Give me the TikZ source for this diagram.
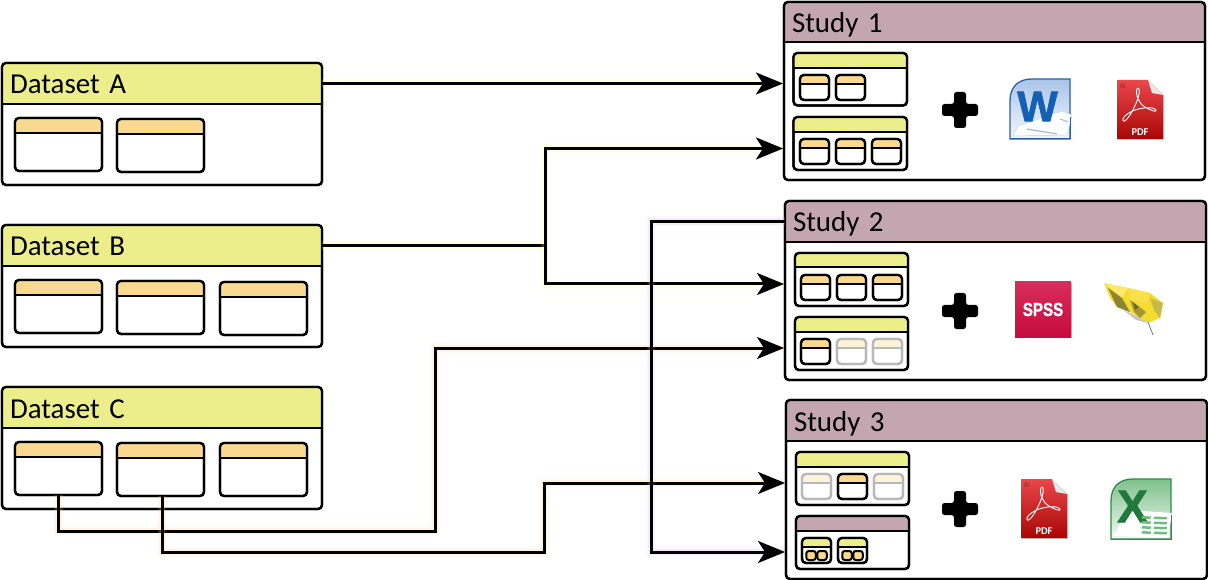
\documentclass[tikz,border=0pt]{standalone}
\usepackage{fontspec}
\usepackage{graphicx}
\setmainfont{Carlito}
\newfontfamily\heavyfont{Liberation Sans}[BoldFeatures={FakeBold=1.6}]
\usetikzlibrary{arrows.meta}
\definecolor{dsyellow}{HTML}{ECEE8C}
\definecolor{tborange}{HTML}{F8D98F}
\definecolor{stpurple}{HTML}{C4A6B0}
\definecolor{fadeorange}{HTML}{FDF3D9}
\definecolor{fadeline}{HTML}{B8B8B8}
\definecolor{glowyellow}{HTML}{FFFF90}
\definecolor{gloworange}{HTML}{FFD08A}
\definecolor{glowpurple}{HTML}{D8B8D8}
\definecolor{wordtop}{HTML}{A9C4E8}
\definecolor{wordbot}{HTML}{F4F8FD}
\definecolor{wordline}{HTML}{2B5FA8}
\definecolor{wordink}{HTML}{1460B4}
\definecolor{wordrule}{HTML}{9DB8DE}
\definecolor{wordedge}{HTML}{C4D4EA}
\definecolor{xltop}{HTML}{7FC08C}
\definecolor{xlbot}{HTML}{F2F9F2}
\definecolor{xlline}{HTML}{2F8C46}
\definecolor{xlink}{HTML}{1F7A3C}
\definecolor{xlcell}{HTML}{6DBE7E}
\definecolor{pdftop}{HTML}{E9474B}
\definecolor{pdfbot}{HTML}{A90606}
\definecolor{pdffold}{HTML}{E8E8E8}
\definecolor{pdfmark}{HTML}{B53030}
\definecolor{spsstop}{HTML}{D62E5C}
\definecolor{spssbot}{HTML}{C60B3E}
\definecolor{leafa}{HTML}{F4DC2E}
\definecolor{leafb}{HTML}{FBE96A}
\definecolor{leafc}{HTML}{FAE04A}
\definecolor{leafd}{HTML}{8E8436}
\definecolor{leafe}{HTML}{A59433}
\definecolor{leaff}{HTML}{6F6A38}
\definecolor{leafg}{HTML}{C9B94A}
\definecolor{leafh}{HTML}{C4C4C0}
\definecolor{leafstem}{HTML}{777777}
\tikzset{
  frame/.style={draw=black,line width=2.3bp,rounded corners=4bp,inner sep=0pt,outer sep=0pt},
  fadedframe/.style={draw=fadeline},
  title/.style={inner xsep=8bp,inner ysep=0pt,outer sep=0pt,anchor=west,text=black,
    text height=21bp,text depth=0bp,font=\fontsize{29}{32}\selectfont},
  link/.style={line width=3bp,draw=black,line join=miter},
  glow/.style={preaction={draw=#1,-,line width=10bp,opacity=.08},
               preaction={draw=#1,-,line width=6.5bp,opacity=.18}},
  tip/.style={-{Stealth[length=27bp,width=22bp,inset=7bp]},shorten >=1bp},
  tiny/.style={draw=black,line width=2bp,rounded corners=2.5bp,fill=tborange,
    inner sep=0pt,outer sep=0pt,minimum width=9.5bp,minimum height=9bp},
  plusmark/.style={fill=black,rounded corners=2.5bp},
  pdfglyph/.style={draw=white,line width=.9bp},
}
% [options]{name}{x1}{y1}{x2}{y2}{divider}{header colour}
\newcommand{\pbox}[8][]{%
  \pgfmathsetmacro{\pcx}{(#3+#5)/2}\pgfmathsetmacro{\pcy}{(#4+#6)/2}%
  \pgfmathsetmacro{\pw}{#5-#3}\pgfmathsetmacro{\ph}{#6-#4}%
  \node[frame,#1,fill=white,minimum width=\pw bp,minimum height=\ph bp] (#2) at (\pcx,\pcy) {};
  \fill[#8] (#3,#7) {[rounded corners=3.5bp] -- (#3,#4) -- (#5,#4)} -- (#5,#7) -- cycle;
  \draw[frame,#1] (#3,#7) -- (#5,#7);
  \draw[frame,#1] (#3,#4) rectangle (#5,#6);
}
% {name}{x1}{y1}{x2}{y2}{divider}{colour}{title}
\newcommand{\titled}[8]{%
  \pbox{#1}{#2}{#3}{#4}{#5}{#6}{#7}
  \pgfmathsetmacro{\tcy}{(#3+#6)/2}\pgfmathsetmacro{\tw}{#4-#2}\pgfmathsetmacro{\th}{#6-#3}%
  \node[title,minimum width=\tw bp,minimum height=\th bp,text width={\tw bp-16bp}] (#1h) at (#2,\tcy) {#8};
}
\newcommand{\plusat}[2]{%
  \fill[plusmark,shift={(#1,#2)}] (-6,-18) -- (6,-18) -- (6,-6) -- (18,-6) -- (18,6) -- (6,6)
    -- (6,18) -- (-6,18) -- (-6,6) -- (-18,6) -- (-18,-6) -- (-6,-6) -- cycle;
}
\newcommand{\wordicon}[3]{%
  \begin{scope}[shift={(#1,#2)}]
    \shade[top color=wordtop,bottom color=wordbot,draw=wordline,line width=1.3bp]
      (0,60) -- (0,22) .. controls (0,8) and (8,0) .. (22,0) -- (60,0) -- (60,60) -- cycle;
    \fill[white,draw=wordedge,line width=.5bp] (8,47) -- (52,32) -- (62,36) -- (57,56) -- (3,57) -- cycle;
    \node[inner sep=0pt,text=wordink,font=\fontsize{43}{43}\selectfont\heavyfont\bfseries] (#3) at (27.5,27.5) {W};
    \draw[wordrule,line width=1.2bp] (17,50) -- (47,55);
    \draw[wordrule,line width=1bp] (50,40) -- (58,43);
    \draw[wordline,line width=1bp] (60,38) -- (60,60) -- (0,60);
  \end{scope}
}
\newcommand{\excelicon}[3]{%
  \begin{scope}[shift={(#1,#2)}]
    \shade[top color=xltop,bottom color=xlbot,draw=xlline,line width=1.3bp]
      (0,60) -- (0,22) .. controls (0,8) and (8,0) .. (22,0) -- (60,0) -- (60,60) -- cycle;
    \fill[white] (17,31) -- (61,34) -- (57,59) -- (2,57) -- cycle;
    \node[inner sep=0pt,text=xlink,font=\fontsize{46}{46}\selectfont\heavyfont\bfseries] (#3) at (21.5,27.5) {X};
    \foreach \r/\yy in {0/37,1/42,2/47,3/52}{
      \fill[xlcell] (31,\yy) -- (40,\yy+.5) -- (39.5,\yy+3) -- (30.5,\yy+2.5) -- cycle;
      \fill[xlcell] (43,\yy+.5) -- (56,\yy+1) -- (55.5,\yy+3.5) -- (42.5,\yy+3) -- cycle;
    }
    \draw[xlline,line width=1bp] (60,36) -- (60,60) -- (0,60);
  \end{scope}
}
\newcommand{\pdficon}[3]{%
  \begin{scope}[shift={(#1,#2)}]
    \fill[black!22] (.5,1) -- (.5,60) -- (46.5,60) -- (46.5,1) -- cycle;
    \shade[top color=pdftop,bottom color=pdfbot]
      (0,0) -- (31,0) -- (46,15) -- (46,59) -- (0,59) -- cycle;
    \fill[white] (31,0) -- (47,0) -- (47,15) -- cycle;
    \fill[pdffold] (31,0) -- (46,15) -- (35,13) -- cycle;
    \draw[pdfmark,line width=.8bp] (3,8) -- (5,3) -- (7,8) (5,3) -- (5,8) (8,3) -- (8,8);
    \draw[pdfglyph] (6,41) .. controls (9,43) and (17,30) .. (21,18) .. controls (24,8) and (21,7) .. (20,9)
      .. controls (18,14) and (22,24) .. (28,27) .. controls (33,30) and (40,33) .. (39,30)
      .. controls (38,27) and (27,27) .. (18,30) .. controls (12,32) and (4,38) .. (6,41);
    \node[inner sep=0pt,text=white,font=\fontsize{10.5}{11}\selectfont\bfseries] (#3) at (23,52) {PDF};
  \end{scope}
}
\begin{document}
\begin{tikzpicture}[x=1bp,y=-1bp]
\useasboundingbox (0,0) rectangle (1208,580);

% Datasets
\titled{dsA}{2}{63}{322}{185}{104}{dsyellow}{Dataset A}
\pbox{dA1}{15}{118}{102}{171}{133}{tborange}
\pbox{dA2}{117}{119}{204}{172}{134}{tborange}

\titled{dsB}{2}{225}{322}{347}{266}{dsyellow}{Dataset B}
\pbox{dB1}{15}{280}{102}{333}{295}{tborange}
\pbox{dB2}{117}{281}{204}{334}{296}{tborange}
\pbox{dB3}{220}{282}{307}{335}{297}{tborange}

\titled{dsC}{2}{387}{322}{509}{428}{dsyellow}{Dataset C}
\pbox{dC1}{15}{442}{102}{495}{457}{tborange}
\pbox{dC2}{117}{443}{204}{496}{458}{tborange}
\pbox{dC3}{220}{443}{307}{496}{458}{tborange}

% Study 1
\titled{st1}{784}{2}{1205}{180}{42}{stpurple}{Study 1}
\pbox{s1a}{793.5}{53}{907}{105.5}{68}{dsyellow}
\pbox{s1a1}{800}{75}{829}{100}{84}{tborange}
\pbox{s1a2}{836}{75}{865}{100}{84}{tborange}
\pbox{s1b}{793.5}{117}{907}{170}{132}{dsyellow}
\pbox{s1b1}{800}{139}{829}{164}{148}{tborange}
\pbox{s1b2}{836}{139}{865}{164}{148}{tborange}
\pbox{s1b3}{872}{139}{901}{164}{148}{tborange}
\plusat{960}{110}
\wordicon{1010}{79}{word1}
\pdficon{1117}{80}{pdf1}

% Study 2
\titled{st2}{785}{201}{1206}{380}{242}{stpurple}{Study 2}
\pbox{s2a}{795}{253}{908}{306}{267}{dsyellow}
\pbox{s2a1}{801}{275}{830}{300}{284}{tborange}
\pbox{s2a2}{837}{275}{866}{300}{284}{tborange}
\pbox{s2a3}{873}{275}{902}{300}{284}{tborange}
\pbox{s2b}{795}{317}{908}{370}{332}{dsyellow}
\pbox{s2b1}{801}{339}{830}{364}{348}{tborange}
\pbox[fadedframe]{s2b2}{837}{339}{866}{364}{348}{fadeorange}
\pbox[fadedframe]{s2b3}{873}{339}{902}{364}{348}{fadeorange}
\plusat{960}{311}
\begin{scope}[shift={(1015,282)}]
  \fill[black!25] (0,1) rectangle (56.5,56);
  \shade[top color=spsstop,bottom color=spssbot] (0,0) rectangle (56,55);
  \node[inner sep=0pt,text=white,font=\fontsize{19}{19}\selectfont\heavyfont\bfseries] (spss) at (28,27.5) {\scalebox{.8}[1]{SPSS}};
\end{scope}
% leaf
\fill[leafa] (1104,283) -- (1128,288) -- (1150,293) -- (1163,303) -- (1160,318) -- (1148,323)
  -- (1138,317) -- (1130,312) -- (1117,307) -- (1110,298) -- cycle;
\fill[leafb] (1104,283) -- (1128,288) -- (1122,298) -- cycle;
\fill[leafc] (1128,288) -- (1150,293) -- (1146,303) -- (1130,300) -- cycle;
\fill[leafd] (1108,288) -- (1122,298) -- (1130,312) -- (1117,307) -- cycle;
\fill[leafe] (1130,300) -- (1146,312) -- (1140,318) -- (1134,312) -- cycle;
\fill[leaff] (1133,302) -- (1139,307) -- (1135,310) -- cycle;
\fill[leafg] (1150,298) -- (1163,303) -- (1160,318) -- (1154,310) -- cycle;
\fill[leafh] (1122,309) -- (1138,317) -- (1148,323) -- (1136,320) -- cycle;
\draw[leafstem,line width=.8bp] (1148,322) -- (1153,335);

% Study 3
\titled{st3}{786}{400}{1207}{579}{441}{stpurple}{Study 3}
\pbox{s3a}{796}{452}{909}{505}{467}{dsyellow}
\pbox[fadedframe]{s3a1}{802}{474}{831}{499}{483}{fadeorange}
\pbox{s3a2}{838}{474}{867}{499}{483}{tborange}
\pbox[fadedframe]{s3a3}{874}{474}{903}{499}{483}{fadeorange}
\pbox{s3b}{796}{516}{909}{569}{531}{stpurple}
\pbox{s3b1}{802}{538}{831}{563}{547}{dsyellow}
\node[tiny] (s3b1a) at (811,555.5) {};
\node[tiny] (s3b1b) at (822,555.5) {};
\pbox{s3b2}{838}{538}{867}{563}{547}{dsyellow}
\node[tiny] (s3b2a) at (847,555.5) {};
\node[tiny] (s3b2b) at (858,555.5) {};
\plusat{960}{509}
\pdficon{1021}{479}{pdf2}
\excelicon{1111}{479}{excel}

% Connector ends and bends
\coordinate (t1a) at (784,83.5);
\coordinate (t1b) at (784,148.5);
\coordinate (t2a) at (785,284);
\coordinate (t2b) at (785,348);
\coordinate (t3a) at (786,483);
\coordinate (t3b) at (786,552);
\coordinate (jB) at (545,245.5);
\coordinate (bC1) at (435,531);
\coordinate (bC2) at (544,552);
\coordinate (jS) at (651,552);

% Connectors
\draw[link,tip,glow=glowyellow] (dsAh.east) -- (t1a);
\draw[link,glow=glowyellow] (dsBh.east) -- (jB);
\draw[link,tip,glow=glowyellow] (jB) |- (t1b);
\draw[link,tip,glow=glowyellow] (jB) |- (t2a);
\draw[link,tip,glow=gloworange] (dC1.south) |- (bC1) |- (t2b);
\draw[link,tip,glow=gloworange] ([xshift=1.5bp]dC2.south) |- (bC2) |- (t3a);
\draw[link,tip,glow=glowpurple] (st2h.west) -| (jS) -- (t3b);
\end{tikzpicture}
\end{document}
